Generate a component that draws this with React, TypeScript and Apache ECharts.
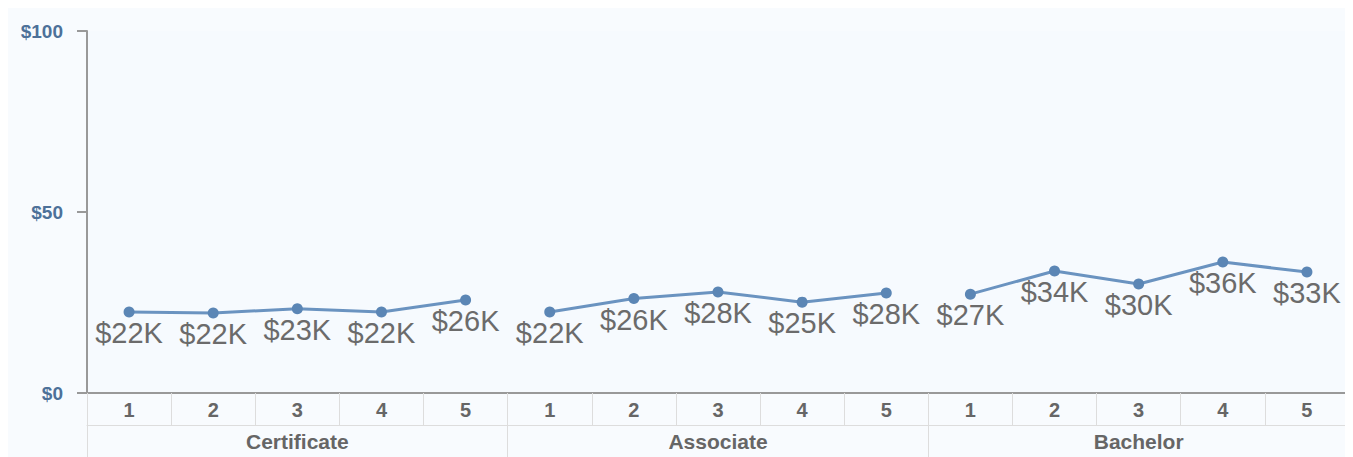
import React, { useEffect, useRef } from "react";
import * as echarts from "echarts";

const groups = ["Certificate", "Associate", "Bachelor"];
const levels = ["1", "2", "3", "4", "5"];
const certificate = [22.4, 22.1, 23.3, 22.4, 25.7];
const associate = [22.4, 26.1, 27.9, 25.1, 27.6];
const bachelor = [27.3, 33.7, 30.1, 36.2, 33.4];
const yTicks = { min: 0, max: 100, interval: 50 };

export default function App() {
  const ref = useRef<HTMLDivElement>(null);
  useEffect(() => {
    document.body.style.overflow = "hidden";
    const chart = echarts.init(ref.current!, null, { renderer: "svg" });
    const categories: string[] = [];
    groups.forEach(() => levels.forEach((l) => categories.push(l)));
    const all = [certificate, associate, bachelor];
    const series = all.map((vals, gi) => {
      const data: (number | string)[] = categories.map(() => "-");
      vals.forEach((v, i) => (data[gi * levels.length + i] = v));
      return {
        type: "line",
        name: groups[gi],
        data,
        xAxisIndex: 0,
        symbol: "circle",
        symbolSize: 11,
        lineStyle: { color: "#6a93c0", width: 3 },
        itemStyle: { color: "#5b86b5" },
        label: {
          show: true,
          position: "bottom",
          distance: 1,
          fontFamily: "Liberation Sans, Arial, sans-serif",
          fontSize: 29,
          color: "#6b6b6b",
          formatter: (p: any) => `$${Math.round(p.value)}K`,
        },
      };
    });
    chart.setOption({
      animation: false,
      backgroundColor: "#f8fbfe",
      grid: {
        left: 79,
        top: 23,
        right: 4,
        bottom: 64,
        show: true,
        backgroundColor: "#f6fafe",
        borderWidth: 0,
      },
      xAxis: [
        {
          type: "category",
          data: categories,
          position: "bottom",
          boundaryGap: true,
          axisLine: { show: true, lineStyle: { color: "#999", width: 2 } },
          axisTick: { show: true, length: 32, lineStyle: { color: "#ddd" } },
          axisLabel: {
            margin: 7,
            fontFamily: "Liberation Sans, Arial, sans-serif",
            fontWeight: "bold",
            fontSize: 20,
            color: "#666",
            interval: 0,
          },
          splitLine: { show: false },
        },
        {
          type: "category",
          data: groups,
          position: "bottom",
          offset: 32,
          boundaryGap: true,
          axisLine: { show: true, lineStyle: { color: "#ddd", width: 1 } },
          axisTick: { show: true, length: 34, lineStyle: { color: "#ddd" } },
          axisLabel: {
            margin: 6,
            fontFamily: "Liberation Sans, Arial, sans-serif",
            fontWeight: "bold",
            fontSize: 21,
            color: "#666",
            interval: 0,
          },
          splitLine: { show: false },
        },
      ],
      yAxis: {
        type: "value",
        min: yTicks.min,
        max: yTicks.max,
        interval: yTicks.interval,
        axisLine: { show: true, lineStyle: { color: "#999", width: 2 } },
        axisTick: { show: true, length: 10, lineStyle: { color: "#999", width: 2 } },
        splitLine: { show: false },
        axisLabel: {
          margin: 24,
          fontFamily: "Liberation Sans, Arial, sans-serif",
          fontWeight: "bold",
          fontSize: 19,
          color: "#4d7199",
          formatter: (v: number) => `$${v}`,
        },
      },
      series,
    });
    return () => chart.dispose();
  }, []);
  return <div ref={ref} style={{ width: 1345, height: 449 }} />;
}
